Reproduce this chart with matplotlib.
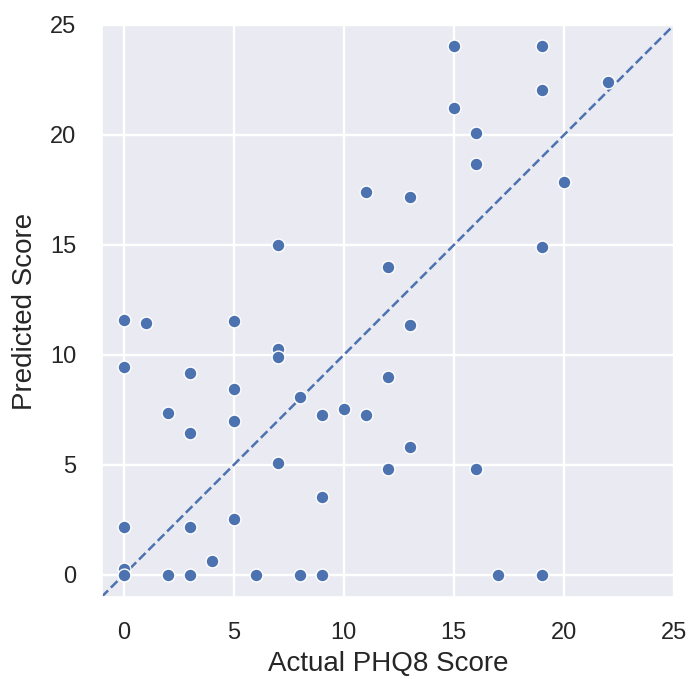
import numpy as np
import matplotlib
matplotlib.use('Agg')
import matplotlib.pyplot as plt
import seaborn as sns

# ── data ────────────────────────────────────────────────────────────────────
actual = [0, 0, 0, 0, 0,
          1,
          2, 2,
          3, 3, 3, 3,
          4,
          5, 5, 5, 5,
          6,
          7, 7, 7, 7,
          8, 8,
          9, 9, 9,
          10,
          11, 11,
          12, 12, 12,
          13, 13, 13,
          15, 15,
          16, 16, 16,
          17,
          19, 19, 19, 19,
          20,
          22]
predicted = [11.6, 9.45, 2.18, 0.25, 0.0,
             11.45,
             7.35, 0.0,
             9.2, 6.45, 2.18, 0.0,
             0.64,
             11.53, 8.45, 7.0, 2.55,
             0.0,
             15.0, 10.27, 9.9, 5.08,
             8.1, 0.0,
             7.26, 3.55, 0.0,
             7.55,
             17.42, 7.26,
             14.0, 9.0, 4.82,
             17.17, 11.35, 5.82,
             24.05, 21.24,
             20.07, 18.7, 4.82,
             0.0,
             24.05, 22.05, 14.9, 0.0,
             17.88,
             22.4]

LIMS = [-1, 25]
TICKS = [0, 5, 10, 15, 20, 25]

# ── style ────────────────────────────────────────────────────────────────────
sns.set_theme(style='darkgrid')
plt.rcParams['font.family'] = ['Liberation Sans', 'DejaVu Sans']
BLUE = sns.color_palette('deep')[0]

fig = plt.figure(figsize=(6.91, 6.79), dpi=100)
ax = fig.add_axes([0.1469, 0.1208, 0.8285, 0.8424])

ax.scatter(actual, predicted, s=85, color=BLUE, edgecolor='white',
           linewidth=1.0, zorder=3)
ax.plot(LIMS, LIMS, ls='--', color=BLUE, lw=1.8, zorder=2)

ax.set_xlim(LIMS)
ax.set_ylim(LIMS)
ax.set_xticks(TICKS)
ax.set_yticks(TICKS)
ax.grid(True, color='white', lw=1.7)
ax.tick_params(labelsize=17, pad=12, colors='#262626')
ax.set_xlabel('Actual PHQ8 Score', fontsize=20, color='#262626', labelpad=5)
ax.set_ylabel('Predicted Score', fontsize=20, color='#262626', labelpad=9)

fig.savefig('out.png', dpi=100, facecolor='white')
plt.close(fig)
